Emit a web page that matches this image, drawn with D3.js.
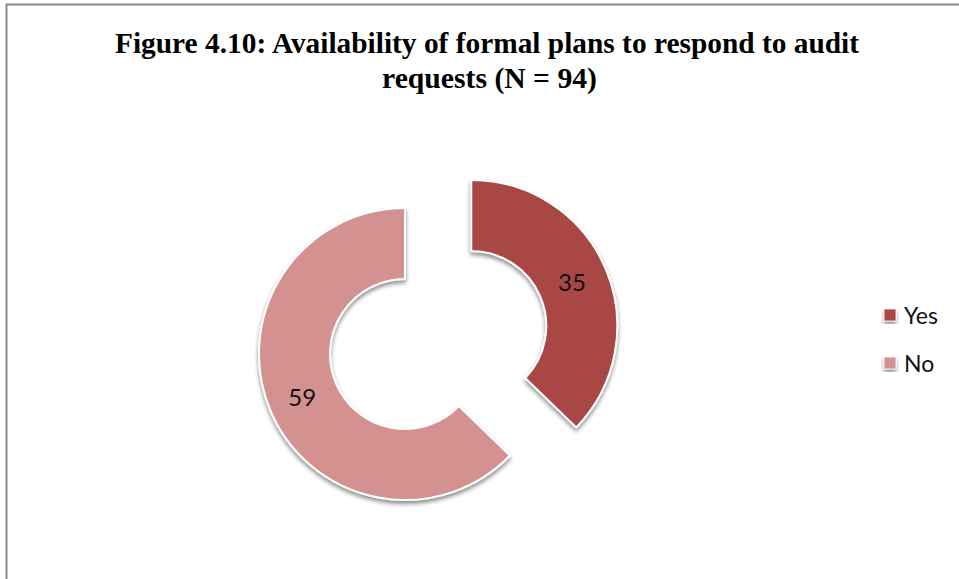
<!DOCTYPE html>
<html>
<head>
<meta charset="utf-8">
<script src="https://cdn.jsdelivr.net/npm/d3@7"></script>
<style>
  html, body { margin: 0; padding: 0; background: #fff; }
  svg { display: block; }
</style>
</head>
<body>
<svg id="chart" width="959" height="579"></svg>
<script>
// Survey responses: formal plans to respond to audit requests
const categories = ["Yes", "No"];
const values = [35, 59];
const colors = ["#A94644", "#D39190"];
const titleLines = ["Figure 4.10: Availability of formal plans to respond to audit", "requests (N = 94)"];

const svg = d3.select("#chart");

// drop shadow for the ring segments
const defs = svg.append("defs");
const f = defs.append("filter").attr("id", "shadow")
  .attr("x", "-20%").attr("y", "-20%").attr("width", "140%").attr("height", "140%");
f.append("feGaussianBlur").attr("in", "SourceAlpha").attr("stdDeviation", 2.2).attr("result", "b");
f.append("feOffset").attr("in", "b").attr("dx", 0).attr("dy", 3).attr("result", "o");
f.append("feComponentTransfer").attr("in", "o").attr("result", "s")
  .append("feFuncA").attr("type", "linear").attr("slope", 0.45);
const m = f.append("feMerge");
m.append("feMergeNode").attr("in", "s");
m.append("feMergeNode").attr("in", "SourceGraphic");

// chart frame (top and left edges visible)
svg.append("path")
  .attr("d", "M6.5,579 V4.5 H959")
  .attr("fill", "none").attr("stroke", "#8a8a8a").attr("stroke-width", 2);

// title
const title = svg.append("g")
  .attr("font-family", "'Liberation Serif', 'Times New Roman', serif")
  .attr("font-weight", "bold").attr("font-size", 30).attr("fill", "#000")
  .attr("text-anchor", "middle");
const titleLen = [744, 215];
const titleX = [487, 489.5];
const titleY = [53, 88];
titleLines.forEach((t, i) => {
  title.append("text")
    .attr("x", titleX[i]).attr("y", titleY[i])
    .attr("textLength", titleLen[i]).attr("lengthAdjust", "spacingAndGlyphs")
    .text(t);
});

// donut
const cx = 405, cy = 354, outerR = 146, innerR = 75, explode = 72;
const pie = d3.pie().sort(null).value(d => d.value).startAngle(0).endAngle(2 * Math.PI);
const arcs = pie(categories.map((c, i) => ({ name: c, value: values[i], color: colors[i] })));
const arc = d3.arc().innerRadius(innerR).outerRadius(outerR);

const offsetOf = d => {
  if (d.data.name !== "Yes") return [0, 0];
  const a = (d.startAngle + d.endAngle) / 2;
  return [explode * Math.sin(a), -explode * Math.cos(a)];
};

const g = svg.append("g").attr("transform", `translate(${cx},${cy})`);
const slices = g.selectAll("g.slice").data(arcs).join("g")
  .attr("class", "slice")
  .attr("transform", d => { const o = offsetOf(d); return `translate(${o[0]},${o[1]})`; });

slices.append("path")
  .attr("d", arc)
  .attr("fill", d => d.data.color)
  .attr("stroke", "#fff").attr("stroke-width", 2).attr("stroke-linejoin", "round")
  .attr("filter", "url(#shadow)");

slices.append("text")
  .attr("transform", d => { const c = arc.centroid(d); return `translate(${c[0] - 1},${c[1] - 1})`; })
  .attr("text-anchor", "middle").attr("dominant-baseline", "central")
  .attr("font-family", "Lato, 'Open Sans', sans-serif").attr("font-size", 24)
  .attr("fill", "#111")
  .text(d => d.data.value);

// legend
const legend = svg.append("g").attr("transform", "translate(884,309)");
const items = legend.selectAll("g").data(categories).join("g")
  .attr("transform", (d, i) => `translate(0,${i * 48})`);
items.append("rect")
  .attr("width", 12).attr("height", 12)
  .attr("fill", (d, i) => colors[i])
  .attr("stroke", "#fff").attr("stroke-width", 0.8)
  .attr("filter", "url(#shadow)");
items.append("text")
  .attr("x", 20).attr("y", 6).attr("dominant-baseline", "central")
  .attr("font-family", "Lato, 'Open Sans', sans-serif").attr("font-size", 23)
  .attr("fill", "#111")
  .text(d => d);
</script>
</body>
</html>
